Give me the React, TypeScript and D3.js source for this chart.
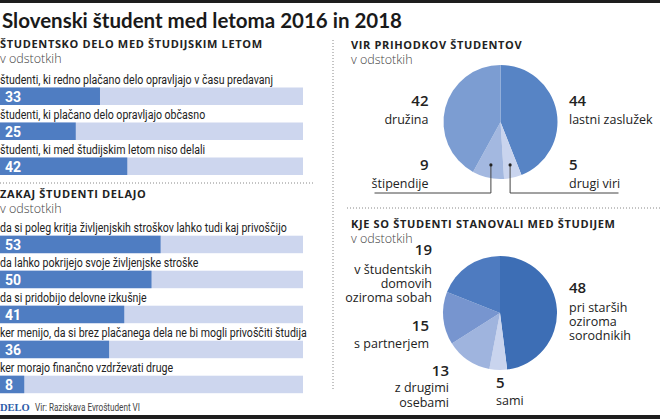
import React from 'react';
import * as d3 from 'd3';

const titleText = 'Slovenski študent med letoma 2016 in 2018';

const workTitle = 'ŠTUDENTSKO DELO MED ŠTUDIJSKIM LETOM';
const workCategories = [
  'študenti, ki redno plačano delo opravljajo v času predavanj',
  'študenti, ki plačano delo opravljajo občasno',
  'študenti, ki med študijskim letom niso delali',
];
const workValues = [33, 25, 42];

const reasonTitle = 'ZAKAJ ŠTUDENTI DELAJO';
const reasonCategories = [
  'da si poleg kritja življenjskih stroškov lahko tudi kaj privoščijo',
  'da lahko pokrijejo svoje življenjske stroške',
  'da si pridobijo delovne izkušnje',
  'ker menijo, da si brez plačanega dela ne bi mogli privoščiti študija',
  'ker morajo finančno vzdrževati druge',
];
const reasonValues = [53, 50, 41, 36, 8];

const incomeTitle = 'VIR PRIHODKOV ŠTUDENTOV';
const incomeLabels = ['lastni zaslužek', 'drugi viri', 'štipendije', 'družina'];
const incomeValues = [44, 5, 9, 42];

const housingTitle = 'KJE SO ŠTUDENTI STANOVALI MED ŠTUDIJEM';
const housingLabels = [
  ['pri starših', 'oziroma', 'sorodnikih'],
  ['sami'],
  ['z drugimi', 'osebami'],
  ['s partnerjem'],
  ['v študentskih', 'domovih', 'oziroma sobah'],
];
const housingValues = [48, 5, 13, 15, 19];

const unitText = 'v odstotkih';
const sourceText = 'Vir: Raziskava Evroštudent VI';
const brandText = 'DELO';

// styles
const W = 660;
const H = 419;
const COND = 'Roboto, sans-serif';
const SANS = '"Open Sans", sans-serif';
const CX = 0.815;
const barColor = '#4f7dc2';
const barBg = '#cdd6ee';
const incomeColors = ['#5784c5', '#c9d4ee', '#a3b8e0', '#7c9dd2'];
const housingColors = ['#3d6eb5', '#c9d4ee', '#9fb4de', '#7795cf', '#4e7bc0'];

const xBar = d3.scaleLinear().domain([0, 100]).range([0, 303]);

function BarGroup({ cats, vals, top }: { cats: string[]; vals: number[]; top: number }) {
  const y = d3
    .scaleBand<string>()
    .domain(cats)
    .range([top, top + cats.length * 35]);
  return (
    <g>
      {cats.map((c, i) => {
        const y0 = y(c) as number;
        return (
          <g key={c}>
            <text
              transform={`translate(0,${y0 + 13}) scale(${CX},1)`}
              fontFamily={COND}
              fontSize={13}
              fill="#222"
            >
              {c}
            </text>
            <rect x={xBar(0)} y={y0 + 17} width={xBar(100) - xBar(0)} height={17.5} fill={barBg} />
            <rect x={xBar(0)} y={y0 + 17} width={xBar(vals[i]) - xBar(0)} height={17.5} fill={barColor} />
            <text x={5} y={y0 + 31} fontFamily={COND} fontWeight={700} fontSize={14} fill="#fff">
              {vals[i]}
            </text>
          </g>
        );
      })}
    </g>
  );
}

function SectionHead({ x, y, title }: { x: number; y: number; title: string }) {
  return (
    <g>
      <text x={x} y={y} fontFamily={SANS} fontWeight={700} fontSize={11} letterSpacing={0.65} fill="#222">
        {title}
      </text>
      <text x={x} y={y + 15} fontFamily={SANS} fontWeight={300} fontSize={12.5} fill="#444">
        {unitText}
      </text>
    </g>
  );
}

export default function App() {
  const c1 = { x: 500.5, y: 122 };
  const r = 57;
  const pie = d3.pie<number>().sort(null).value((d) => d);
  const arc = d3.arc<d3.PieArcDatum<number>>().innerRadius(0).outerRadius(r);
  const dotArc = d3.arc<d3.PieArcDatum<number>>().innerRadius(88).outerRadius(0);
  const inc = pie(incomeValues);
  const dotL = dotArc.centroid(inc[2]);
  const dotR = dotArc.centroid(inc[1]);

  const c2 = { x: 500, y: 313 };
  const hou = pie(housingValues);

  const numStyle = { fontFamily: SANS, fontWeight: 600, fontSize: 15, fill: '#222' } as const;
  const lblStyle = { fontFamily: SANS, fontWeight: 400, fontSize: 12.5, fill: '#222' } as const;

  const inc1 = [
    { anchor: 'start', dx: 68.5, ny: -16, ly: 2 },
    { anchor: 'start', dx: 68.5, ny: 48, ly: 66 },
    { anchor: 'end', dx: -72, ny: 48, ly: 66 },
    { anchor: 'end', dx: -72, ny: -16, ly: 2 },
  ];
  const hou1 = [
    { anchor: 'start', dx: 69, ny: -20, ly: -1, gap: 14 },
    { anchor: 'start', dx: -4, ny: 75, ly: 92, gap: 14 },
    { anchor: 'end', dx: -51, ny: 63, ly: 79, gap: 15 },
    { anchor: 'end', dx: -71, ny: 18, ly: 35, gap: 14 },
    { anchor: 'end', dx: -68, ny: -58, ly: -39, gap: 14 },
  ];

  return (
    <svg width={W} height={H} style={{ position: 'absolute', left: 0, top: 0, background: '#fff' }}>
      <rect x={0} y={0} width={W} height={H} fill="#fff" />
      <rect x={0} y={0} width={W} height={3} fill="#1e1e1e" />
      <rect x={0} y={415} width={W} height={4} fill="#1e1e1e" />
      <text x={2} y={27.5} fontFamily="Lato, sans-serif" fontWeight={700} fontSize={20.5} fill="#1a1a1a">
        {titleText}
      </text>

      <SectionHead x={0} y={48} title={workTitle} />
      <BarGroup cats={workCategories} vals={workValues} top={70.5} />

      <line x1={0} x2={315} y1={183} y2={183} stroke="#888" strokeWidth={1} strokeDasharray="1,2" />

      <SectionHead x={0} y={198} title={reasonTitle} />
      <BarGroup cats={reasonCategories} vals={reasonValues} top={218.7} />

      <text x={0} y={411} fontFamily='"Liberation Serif", serif' fontWeight={700} fontSize={10.5} fill="#2d5ca8">
        {brandText}
      </text>
      <text transform={`translate(35,411) scale(${CX},1)`} fontFamily={COND} fontSize={10} fill="#444">
        {sourceText}
      </text>

      <line x1={333} x2={333} y1={40} y2={390} stroke="#888" strokeWidth={1} strokeDasharray="1,2" />
      <line x1={347} x2={660} y1={208} y2={208} stroke="#888" strokeWidth={1} strokeDasharray="1,2" />

      <SectionHead x={351} y={49} title={incomeTitle} />
      <g transform={`translate(${c1.x},${c1.y})`}>
        {inc.map((d, i) => (
          <path key={i} d={arc(d) as string} fill={incomeColors[i]} />
        ))}
        <polyline
          points={`${dotL[0]},${dotL[1]} ${dotL[0]},71 -126,71`}
          fill="none"
          stroke="#444"
          strokeWidth={1}
        />
        <polyline
          points={`${dotR[0]},${dotR[1]} ${dotR[0]},71 118,71`}
          fill="none"
          stroke="#444"
          strokeWidth={1}
        />
        <circle cx={dotL[0]} cy={dotL[1]} r={1.6} fill="#222" />
        <circle cx={dotR[0]} cy={dotR[1]} r={1.6} fill="#222" />
        {inc.map((d, i) => (
          <g key={'l' + i}>
            <text x={inc1[i].dx} y={inc1[i].ny} textAnchor={inc1[i].anchor} {...numStyle}>
              {incomeValues[i]}
            </text>
            <text x={inc1[i].dx} y={inc1[i].ly} textAnchor={inc1[i].anchor} {...lblStyle}>
              {incomeLabels[i]}
            </text>
          </g>
        ))}
      </g>

      <SectionHead x={351} y={228} title={housingTitle} />
      <g transform={`translate(${c2.x},${c2.y})`}>
        {hou.map((d, i) => (
          <path key={i} d={arc(d) as string} fill={housingColors[i]} />
        ))}
        {hou.map((d, i) => (
          <g key={'l' + i}>
            <text x={hou1[i].dx} y={hou1[i].ny} textAnchor={hou1[i].anchor} {...numStyle}>
              {housingValues[i]}
            </text>
            <text x={hou1[i].dx} y={hou1[i].ly} textAnchor={hou1[i].anchor} {...lblStyle}>
              {housingLabels[i].map((t, j) => (
                <tspan key={j} x={hou1[i].dx} dy={j === 0 ? 0 : hou1[i].gap}>
                  {t}
                </tspan>
              ))}
            </text>
          </g>
        ))}
      </g>
    </svg>
  );
}
